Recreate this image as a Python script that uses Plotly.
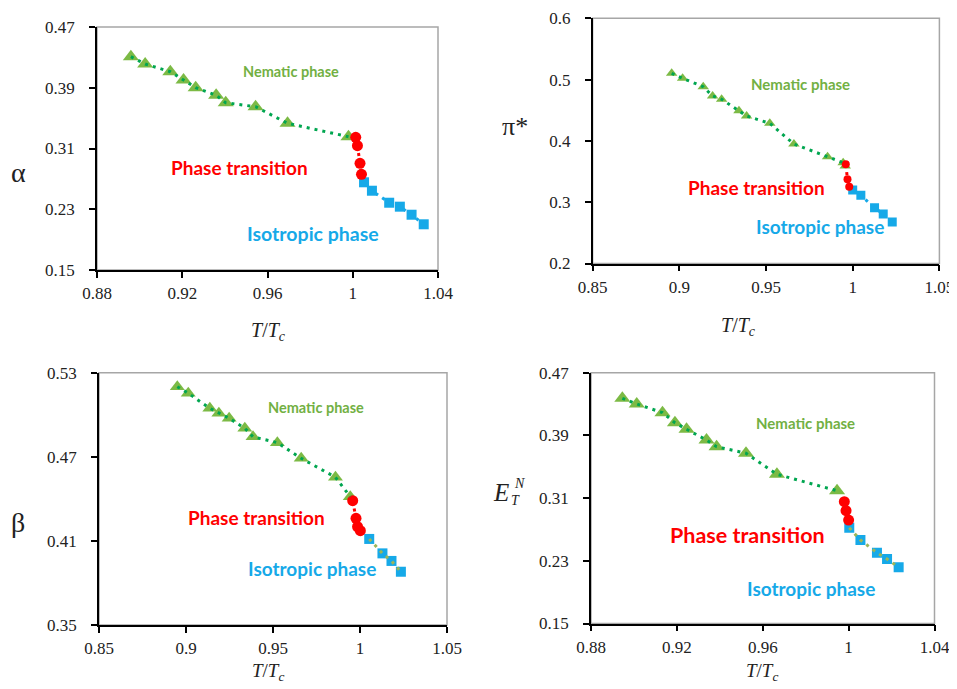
import plotly.graph_objects as go

# ---------------- data ----------------
# Panel 1: alpha
a_nem_x = [0.8959, 0.9026, 0.9144, 0.9206, 0.9263, 0.9359, 0.9404, 0.9544, 0.9694, 0.9980]
a_nem_y = [0.4309, 0.4213, 0.4111, 0.4002, 0.3901, 0.3801, 0.3703, 0.3650, 0.3432, 0.3255]
a_tr_x = [1.0014, 1.0022, 1.0034, 1.0041]
a_tr_y = [0.3247, 0.3137, 0.2905, 0.2760]
a_iso_x = [1.0053, 1.0090, 1.0171, 1.0221, 1.0276, 1.0333]
a_iso_y = [0.2655, 0.2544, 0.2386, 0.2334, 0.2228, 0.2102]

# Panel 2: pi*
p_nem_x = [0.8956, 0.9019, 0.9138, 0.9192, 0.9244, 0.9344, 0.9388, 0.9522, 0.9661, 0.9855, 0.9945, 0.9957]
p_nem_y = [0.5103, 0.5021, 0.4884, 0.4732, 0.4679, 0.4493, 0.4406, 0.4287, 0.3949, 0.3742, 0.3644, 0.3590]
p_tr_x = [0.9960, 0.9970, 0.9980]
p_tr_y = [0.3620, 0.3374, 0.3253]
p_iso_x = [1.0000, 1.0047, 1.0126, 1.0176, 1.0228]
p_iso_y = [0.3198, 0.3113, 0.2910, 0.2807, 0.2677]

# Panel 3: beta
b_nem_x = [0.8950, 0.9013, 0.9137, 0.9189, 0.9248, 0.9338, 0.9385, 0.9525, 0.9662, 0.9859, 0.9944]
b_nem_y = [0.5200, 0.5153, 0.5046, 0.5010, 0.4975, 0.4903, 0.4843, 0.4801, 0.4689, 0.4554, 0.4415]
b_tr_x = [0.9958, 0.9977, 0.9986, 1.0002]
b_tr_y = [0.4387, 0.4261, 0.4201, 0.4173]
b_iso_x = [1.0053, 1.0129, 1.0181, 1.0235]
b_iso_y = [0.4114, 0.4011, 0.3957, 0.3880]

# Panel 4: E_T^N
e_nem_x = [0.8946, 0.9013, 0.9133, 0.9191, 0.9245, 0.9338, 0.9385, 0.9522, 0.9666, 0.9946]
e_nem_y = [0.4373, 0.4301, 0.4190, 0.4062, 0.3978, 0.3841, 0.3756, 0.3672, 0.3404, 0.3194]
e_tr_x = [0.9980, 0.9988, 1.0000]
e_tr_y = [0.3054, 0.2939, 0.2820]
e_iso_x = [1.0003, 1.0055, 1.0132, 1.0179, 1.0233]
e_iso_y = [0.2722, 0.2565, 0.2403, 0.2323, 0.2217]

x_ticks_a = [0.88, 0.92, 0.96, 1.0, 1.04]
x_text_a = ["0.88", "0.92", "0.96", "1", "1.04"]
x_ticks_b = [0.85, 0.90, 0.95, 1.0, 1.05]
x_text_b = ["0.85", "0.9", "0.95", "1", "1.05"]
y_ticks_1 = [0.15, 0.23, 0.31, 0.39, 0.47]
y_text_1 = ["0.15", "0.23", "0.31", "0.39", "0.47"]
y_ticks_2 = [0.2, 0.3, 0.4, 0.5, 0.6]
y_text_2 = ["0.2", "0.3", "0.4", "0.5", "0.6"]
y_ticks_3 = [0.35, 0.41, 0.47, 0.53]
y_text_3 = ["0.35", "0.41", "0.47", "0.53"]
y_ticks_4 = [0.15, 0.23, 0.31, 0.39, 0.47]
y_text_4 = ["0.15", "0.23", "0.31", "0.39", "0.47"]

# ---------------- style ----------------
W, H = 957, 689
OFF = 8  # page body margin
GREEN_M = "#7CBA45"
GREEN_L = "#00A650"
RED = "#FF0000"
BLUE = "#16A9E8"
OLIVE = "#9BB55A"
SERIF = "Liberation Serif"
SANS = "Lato"

def px_dom_x(a, b):
    return [(a - OFF) / W, (b - OFF) / W]

def px_dom_y(top, bottom):
    return [1 - (bottom - OFF) / H, 1 - (top - OFF) / H]

panels = [
    dict(data=(a_nem_x, a_nem_y, a_tr_x, a_tr_y, a_iso_x, a_iso_y),
         xd=px_dom_x(97, 438), yd=px_dom_y(27, 270),
         xr=[0.88, 1.04], yr=[0.15, 0.47], xt=(x_ticks_a, x_text_a), yt=(y_ticks_1, y_text_1),
         ms=(14, 11, 10), iso_line=BLUE),
    dict(data=(p_nem_x, p_nem_y, p_tr_x, p_tr_y, p_iso_x, p_iso_y),
         xd=px_dom_x(592.6, 939.4), yd=px_dom_y(18.3, 263.5),
         xr=[0.85, 1.05], yr=[0.2, 0.6], xt=(x_ticks_b, x_text_b), yt=(y_ticks_2, y_text_2),
         ms=(10, 8, 9), iso_line=BLUE),
    dict(data=(b_nem_x, b_nem_y, b_tr_x, b_tr_y, b_iso_x, b_iso_y),
         xd=px_dom_x(99, 447), yd=px_dom_y(372.7, 625),
         xr=[0.85, 1.05], yr=[0.35, 0.53], xt=(x_ticks_b, x_text_b), yt=(y_ticks_3, y_text_3),
         ms=(13, 11, 10), iso_line=OLIVE),
    dict(data=(e_nem_x, e_nem_y, e_tr_x, e_tr_y, e_iso_x, e_iso_y),
         xd=px_dom_x(591, 934.5), yd=px_dom_y(372.7, 623.5),
         xr=[0.88, 1.04], yr=[0.15, 0.47], xt=(x_ticks_a, x_text_a), yt=(y_ticks_4, y_text_4),
         ms=(14, 11, 10), iso_line=OLIVE),
]

fig = go.Figure()
layout = dict(width=W, height=H, margin=dict(l=0, r=0, t=0, b=0, pad=0), autosize=False,
              paper_bgcolor="white", plot_bgcolor="white", showlegend=False,
              template="none")
shapes = []
for i, p in enumerate(panels, start=1):
    xa = "x" if i == 1 else f"x{i}"
    ya = "y" if i == 1 else f"y{i}"
    nx, ny, tx, ty, ix, iy = p["data"]
    ms_t, ms_c, ms_s = p["ms"]
    # markers
    fig.add_trace(go.Scatter(x=nx, y=ny, mode="markers", xaxis=xa, yaxis=ya,
                             marker=dict(symbol="triangle-up", size=ms_t, color=GREEN_M,
                                         line=dict(width=0))))
    fig.add_trace(go.Scatter(x=ix, y=iy, mode="markers", xaxis=xa, yaxis=ya,
                             marker=dict(symbol="square", size=ms_s, color=BLUE,
                                         line=dict(width=0))))
    fig.add_trace(go.Scatter(x=tx, y=ty, mode="markers", xaxis=xa, yaxis=ya,
                             marker=dict(symbol="circle", size=ms_c, color=RED,
                                         line=dict(width=0))))
    # dotted lines on top
    fig.add_trace(go.Scatter(x=nx, y=ny, mode="lines", xaxis=xa, yaxis=ya,
                             line=dict(color=GREEN_L, width=3, dash="3px,5px")))
    fig.add_trace(go.Scatter(x=tx, y=ty, mode="lines", xaxis=xa, yaxis=ya,
                             line=dict(color=RED, width=3, dash="3px,5px")))
    fig.add_trace(go.Scatter(x=ix, y=iy, mode="lines", xaxis=xa, yaxis=ya,
                             line=dict(color=p["iso_line"], width=3, dash="3px,5px")))
    axkw = dict(showgrid=False, zeroline=False, showline=True, linecolor="black", linewidth=1.5,
                ticks="outside", ticklen=6, tickcolor="black", tickwidth=1.5, automargin=False,
                tickfont=dict(family=SERIF, size=17, color="#222"))
    layout["xaxis" if i == 1 else f"xaxis{i}"] = dict(
        domain=p["xd"], range=p["xr"], tickvals=p["xt"][0], ticktext=p["xt"][1],
        anchor=ya, ticklabelstandoff=1, **axkw)
    layout["yaxis" if i == 1 else f"yaxis{i}"] = dict(
        domain=p["yd"], range=p["yr"], tickvals=p["yt"][0], ticktext=p["yt"][1],
        anchor=xa, ticklabelstandoff=11, **axkw)
    shapes.append(dict(type="rect", xref=f"{xa} domain", yref=f"{ya} domain",
                       x0=0, x1=1, y0=0, y1=1, line=dict(color="#A6A6A6", width=1.5),
                       layer="below"))

layout["shapes"] = shapes

def ann(x, y, text, size, color, family, bold=False):
    return dict(x=(x - OFF) / W, y=1 - (y - OFF) / H, xref="paper", yref="paper", text=text,
                showarrow=False,
                font=dict(size=size, color=color, family=family, weight="bold" if bold else "normal"),
                xanchor="center", yanchor="middle")

NEM_C = "#72B043"
TT = "<i>T</i>/<i>T</i><sub><i>c</i></sub>"
annots = [
    # phase labels
    ann(291, 71, "Nematic phase", 14.5, NEM_C, SANS, True),
    ann(239, 167, "Phase transition", 19, RED, SANS, True),
    ann(313, 234, "Isotropic phase", 19.5, BLUE, SANS, True),
    ann(800, 84, "Nematic phase", 15, NEM_C, SANS, True),
    ann(756, 187, "Phase transition", 19, RED, SANS, True),
    ann(820, 226, "Isotropic phase", 19, BLUE, SANS, True),
    ann(316, 407, "Nematic phase", 14.5, NEM_C, SANS, True),
    ann(256, 517, "Phase transition", 19, RED, SANS, True),
    ann(312, 568, "Isotropic phase", 19, BLUE, SANS, True),
    ann(805, 423, "Nematic phase", 15, NEM_C, SANS, True),
    ann(747, 535, "Phase transition", 21.5, RED, SANS, True),
    ann(811, 588, "Isotropic phase", 19, BLUE, SANS, True),
    # axis titles
    ann(268, 331, TT, 20, "#222", SERIF),
    ann(738, 326, TT, 20, "#222", SERIF),
    ann(268, 672, TT, 19, "#222", SERIF),
    ann(762, 672, TT, 19, "#222", SERIF),
    ann(18, 172, "α", 28, "#222", SERIF),
    ann(515, 126, "π*", 26, "#222", SERIF),
    ann(18, 522, "β", 28, "#222", SERIF),
    ann(501, 492, "<i>E</i>", 25, "#222", SERIF),
    ann(515, 500, "<i>T</i>", 14, "#222", SERIF),
    ann(519, 483, "<i>N</i>", 14, "#222", SERIF),
]
layout["annotations"] = annots
fig.update_layout(**layout)
fig.write_html("out.html")
